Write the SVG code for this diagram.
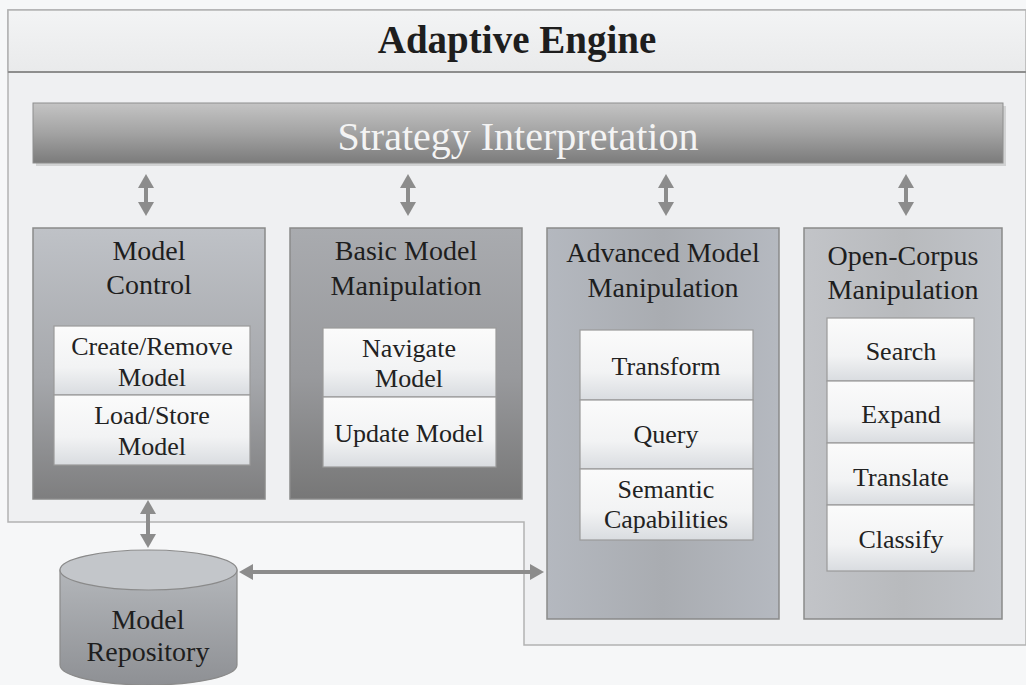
<svg xmlns="http://www.w3.org/2000/svg" width="1026" height="685" viewBox="0 0 1026 685">
  <style>
    .title { font-family: "Liberation Serif", "Times New Roman", serif; font-weight: bold; font-size: 39px; fill: #1e1e1e; text-anchor: middle; }
    .bar-text { font-family: "Liberation Serif", "Times New Roman", serif; font-size: 40px; fill: #f4f4f4; text-anchor: middle; }
    .col-title { font-family: "Liberation Serif", "Times New Roman", serif; font-size: 28px; fill: #1e1e1e; text-anchor: middle; }
    .item { font-family: "Liberation Serif", "Times New Roman", serif; font-size: 26px; fill: #222; text-anchor: middle; }
    .col { stroke: #8a8a8a; stroke-width: 1.5; }
    .cell { fill: url(#cellGrad); stroke: #9a9a9a; stroke-width: 1.2; }
    .link { fill: none; stroke: #8c8c8c; stroke-width: 4; marker-start: url(#head); marker-end: url(#head); }
  </style>
  <defs>
    <linearGradient id="barGrad" x1="0" y1="0" x2="0" y2="1">
      <stop offset="0" stop-color="#c4c4c4"/>
      <stop offset="0.5" stop-color="#a3a3a3"/>
      <stop offset="1" stop-color="#7b7b7b"/>
    </linearGradient>
    <linearGradient id="colDark" x1="0" y1="0" x2="0" y2="1">
      <stop offset="0" stop-color="#bfc2c7"/>
      <stop offset="0.55" stop-color="#a6a8ac"/>
      <stop offset="1" stop-color="#7e7e7f"/>
    </linearGradient>
    <linearGradient id="colDark2" x1="0" y1="0" x2="0" y2="1">
      <stop offset="0" stop-color="#a9abaf"/>
      <stop offset="0.55" stop-color="#98999c"/>
      <stop offset="1" stop-color="#777777"/>
    </linearGradient>
    <linearGradient id="colLight" x1="0" y1="0" x2="1" y2="0">
      <stop offset="0" stop-color="#b4b8bf"/>
      <stop offset="0.5" stop-color="#a9acb1"/>
      <stop offset="1" stop-color="#b5b9c0"/>
    </linearGradient>
    <linearGradient id="colLight2" x1="0" y1="0" x2="1" y2="0">
      <stop offset="0" stop-color="#c2c4c8"/>
      <stop offset="0.5" stop-color="#b8babd"/>
      <stop offset="1" stop-color="#c0c3c8"/>
    </linearGradient>
    <linearGradient id="cellGrad" x1="0" y1="0" x2="0" y2="1">
      <stop offset="0" stop-color="#fbfbfb"/>
      <stop offset="0.6" stop-color="#f2f3f4"/>
      <stop offset="1" stop-color="#d9dce0"/>
    </linearGradient>
    <linearGradient id="cylGrad" x1="0" y1="0" x2="0" y2="1">
      <stop offset="0" stop-color="#b3b6ba"/>
      <stop offset="1" stop-color="#8e9094"/>
    </linearGradient>
    <linearGradient id="headerGrad" x1="0" y1="0" x2="0" y2="1">
      <stop offset="0" stop-color="#f3f4f5"/>
      <stop offset="1" stop-color="#e9eaeb"/>
    </linearGradient>
    <marker id="head" viewBox="0 0 14 16" refX="2" refY="8" markerWidth="14" markerHeight="16" markerUnits="userSpaceOnUse" orient="auto-start-reverse">
      <path d="M0,0 L14,8 L0,16 Z" fill="#8c8c8c"/>
    </marker>
  </defs>

  <!-- page background -->
  <rect x="0" y="0" width="1026" height="685" fill="#f6f7f8"/>

  <!-- Adaptive Engine container -->
  <g id="adaptive-engine">
    <path d="M8,10 H1026 V645 H524 V522 H8 Z" fill="#eff0f2" stroke="#b2b2b2" stroke-width="1.5"/>
    <rect x="8" y="10" width="1018" height="62" fill="url(#headerGrad)" stroke="#b2b2b2" stroke-width="1.5"/>
    <line x1="8" y1="72" x2="1026" y2="72" stroke="#8e8e8e" stroke-width="2"/>
    <text class="title" x="517" y="53">Adaptive Engine</text>
  </g>

  <!-- Strategy Interpretation bar -->
  <g id="strategy-interpretation">
    <rect x="36" y="106" width="970" height="60" fill="#9a9a9a" opacity="0.35"/>
    <rect x="33" y="103" width="970" height="60" fill="url(#barGrad)" stroke="#8e8e8e" stroke-width="1"/>
    <text class="bar-text" x="518" y="150">Strategy Interpretation</text>
  </g>

  <!-- Model Control -->
  <g id="model-control">
    <rect class="col" x="33" y="228" width="232" height="271" fill="url(#colDark)"/>
    <text class="col-title" x="149" y="260">Model</text>
    <text class="col-title" x="149" y="294">Control</text>
    <rect class="cell" x="54" y="326" width="196" height="69"/>
    <rect class="cell" x="54" y="395" width="196" height="70"/>
    <text class="item" x="152" y="355">Create/Remove</text>
    <text class="item" x="152" y="386">Model</text>
    <text class="item" x="152" y="424">Load/Store</text>
    <text class="item" x="152" y="455">Model</text>
  </g>

  <!-- Basic Model Manipulation -->
  <g id="basic-model-manipulation">
    <rect class="col" x="290" y="228" width="232" height="271" fill="url(#colDark2)"/>
    <text class="col-title" x="406" y="260">Basic Model</text>
    <text class="col-title" x="406" y="295">Manipulation</text>
    <rect class="cell" x="323" y="328" width="173" height="69"/>
    <rect class="cell" x="323" y="397" width="173" height="70"/>
    <text class="item" x="409" y="357">Navigate</text>
    <text class="item" x="409" y="387">Model</text>
    <text class="item" x="409" y="442">Update Model</text>
  </g>

  <!-- Advanced Model Manipulation -->
  <g id="advanced-model-manipulation">
    <rect class="col" x="547" y="228" width="232" height="391" fill="url(#colLight)"/>
    <text class="col-title" x="663" y="262">Advanced Model</text>
    <text class="col-title" x="663" y="297">Manipulation</text>
    <rect class="cell" x="580" y="330" width="173" height="70"/>
    <rect class="cell" x="580" y="400" width="173" height="69"/>
    <rect class="cell" x="580" y="469" width="173" height="71"/>
    <text class="item" x="666" y="375">Transform</text>
    <text class="item" x="666" y="443">Query</text>
    <text class="item" x="666" y="498">Semantic</text>
    <text class="item" x="666" y="528">Capabilities</text>
  </g>

  <!-- Open-Corpus Manipulation -->
  <g id="open-corpus-manipulation">
    <rect class="col" x="804" y="228" width="198" height="391" fill="url(#colLight2)"/>
    <text class="col-title" x="903" y="265">Open-Corpus</text>
    <text class="col-title" x="903" y="299">Manipulation</text>
    <rect class="cell" x="827" y="318" width="147" height="63"/>
    <rect class="cell" x="827" y="381" width="147" height="62"/>
    <rect class="cell" x="827" y="443" width="147" height="62"/>
    <rect class="cell" x="827" y="505" width="147" height="66"/>
    <text class="item" x="901" y="360">Search</text>
    <text class="item" x="901" y="423">Expand</text>
    <text class="item" x="901" y="486">Translate</text>
    <text class="item" x="901" y="548">Classify</text>
  </g>

  <!-- Model Repository -->
  <g id="model-repository">
    <path d="M60,570 V665 A88.5,20 0 0 0 237,665 V570 Z" fill="url(#cylGrad)" stroke="#8a8a8a" stroke-width="1.2"/>
    <ellipse cx="148.5" cy="570" rx="88.5" ry="20" fill="#c3c6ca" stroke="#8a8a8a" stroke-width="1.2"/>
    <text class="col-title" x="148" y="629">Model</text>
    <text class="col-title" x="148" y="661">Repository</text>
  </g>

  <!-- connectors -->
  <g id="connectors">
    <path class="link" d="M146,186 V204"/>
    <path class="link" d="M408,186 V204"/>
    <path class="link" d="M666,186 V204"/>
    <path class="link" d="M906,186 V204"/>
    <path class="link" d="M148,512 V536"/>
    <path class="link" d="M251,572 H532"/>
  </g>
</svg>
